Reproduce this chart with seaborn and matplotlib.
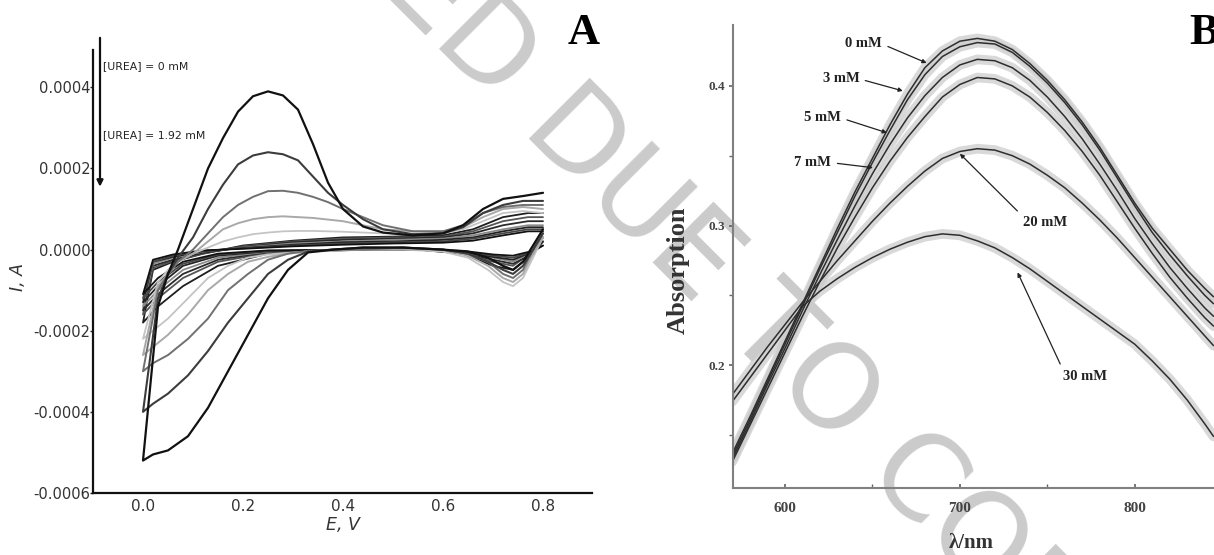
import matplotlib
matplotlib.use("Agg")
import matplotlib.pyplot as plt
from matplotlib.ticker import FixedLocator, MultipleLocator, FormatStrFormatter
import numpy as np
import seaborn as sns

# ---------------- panel A : cyclic voltammograms (current in 1e-4 A) ----------------
E_UP = [0.00, 0.03, 0.05, 0.07, 0.10, 0.13, 0.16, 0.19, 0.22, 0.25, 0.28, 0.31,
        0.34, 0.37, 0.40, 0.44, 0.48, 0.54, 0.60, 0.64, 0.68, 0.72, 0.76, 0.80]
E_DN = [0.80, 0.78, 0.76, 0.74, 0.72, 0.69, 0.65, 0.60, 0.52, 0.44, 0.38, 0.33,
        0.29, 0.25, 0.21, 0.17, 0.13, 0.09, 0.05, 0.02, 0.00]

C1_UP = [-5.2, -1.4, -0.6, 0.0, 1.0, 2.0, 2.75, 3.4, 3.78, 3.9, 3.8, 3.45, 2.6, 1.65, 1.0, 0.57, 0.42, 0.35, 0.4, 0.6, 1.0, 1.25, 1.32, 1.4]
C1_DN = [0.5, 0.1, -0.3, -0.5, -0.4, -0.2, -0.05, 0.0, 0.05, 0.05, 0.0, -0.07, -0.5, -1.2, -2.1, -3.0, -3.9, -4.6, -4.95, -5.05, -5.2]
C2_UP = [-4.0, -1.2, -0.6, -0.2, 0.3, 1.0, 1.6, 2.1, 2.32, 2.4, 2.35, 2.2, 1.8, 1.4, 1.1, 0.75, 0.5, 0.38, 0.4, 0.55, 0.9, 1.1, 1.2, 1.2]
C2_DN = [0.4, 0.0, -0.4, -0.6, -0.5, -0.3, -0.1, 0.0, 0.05, 0.05, 0.0, -0.05, -0.25, -0.6, -1.2, -1.8, -2.5, -3.1, -3.55, -3.8, -4.0]
C3_UP = [-3.0, -1.0, -0.6, -0.3, 0.0, 0.4, 0.8, 1.1, 1.3, 1.44, 1.45, 1.4, 1.3, 1.17, 1.0, 0.8, 0.6, 0.45, 0.45, 0.6, 0.9, 1.05, 1.1, 1.1]
C3_DN = [0.4, 0.0, -0.5, -0.7, -0.6, -0.3, -0.1, 0.0, 0.05, 0.0, 0.0, -0.03, -0.1, -0.25, -0.6, -1.0, -1.7, -2.2, -2.6, -2.8, -3.0]
C4_UP = [-2.6, -0.9, -0.6, -0.3, -0.1, 0.2, 0.5, 0.65, 0.75, 0.8, 0.82, 0.8, 0.78, 0.74, 0.7, 0.6, 0.5, 0.45, 0.45, 0.55, 0.8, 1.0, 1.05, 1.0]
C4_DN = [0.3, -0.1, -0.6, -0.8, -0.7, -0.4, -0.15, 0.0, 0.0, 0.0, -0.03, -0.05, -0.1, -0.18, -0.3, -0.6, -1.0, -1.6, -2.1, -2.4, -2.6]
C5_UP = [-2.2, -0.8, -0.5, -0.3, -0.1, 0.05, 0.2, 0.3, 0.38, 0.42, 0.45, 0.46, 0.46, 0.45, 0.44, 0.42, 0.4, 0.38, 0.4, 0.5, 0.7, 0.9, 0.95, 0.9]
C5_DN = [0.3, -0.2, -0.7, -0.9, -0.8, -0.5, -0.2, -0.05, 0.0, 0.0, -0.03, -0.05, -0.08, -0.12, -0.2, -0.4, -0.7, -1.2, -1.7, -2.0, -2.2]

# higher urea, almost flat loops
E_FU = [0.00, 0.02, 0.06, 0.12, 0.20, 0.30, 0.40, 0.50, 0.60, 0.66, 0.72, 0.77, 0.80]
E_FD = [0.80, 0.78, 0.74, 0.70, 0.64, 0.55, 0.45, 0.35, 0.25, 0.15, 0.08, 0.03, 0.00]
F1_UP = [-1.8, -0.5, -0.3, -0.1, 0.1, 0.22, 0.3, 0.32, 0.35, 0.5, 0.8, 0.9, 0.9]
F1_DN = [0.3, -0.1, -0.5, -0.4, -0.1, 0.0, 0.0, -0.03, -0.1, -0.4, -0.9, -1.4, -1.8]
F2_UP = [-1.6, -0.45, -0.28, -0.1, 0.08, 0.2, 0.27, 0.3, 0.32, 0.45, 0.7, 0.8, 0.8]
F2_DN = [0.3, -0.05, -0.4, -0.3, -0.1, 0.0, 0.0, -0.03, -0.08, -0.3, -0.7, -1.2, -1.6]
F3_UP = [-1.5, -0.4, -0.25, -0.08, 0.06, 0.18, 0.24, 0.27, 0.3, 0.4, 0.6, 0.7, 0.7]
F3_DN = [0.2, -0.1, -0.35, -0.25, -0.08, 0.0, 0.0, -0.02, -0.06, -0.25, -0.6, -1.1, -1.5]
F4_UP = [-1.4, -0.35, -0.2, -0.05, 0.05, 0.15, 0.2, 0.24, 0.27, 0.35, 0.5, 0.6, 0.6]
F4_DN = [0.2, -0.05, -0.3, -0.2, -0.06, 0.0, 0.0, -0.02, -0.05, -0.2, -0.5, -1.0, -1.4]
F5_UP = [-1.3, -0.3, -0.18, -0.04, 0.04, 0.12, 0.18, 0.2, 0.24, 0.3, 0.45, 0.55, 0.55]
F5_DN = [0.2, -0.05, -0.25, -0.18, -0.05, 0.0, 0.0, -0.02, -0.04, -0.15, -0.4, -0.9, -1.3]
F6_UP = [-1.2, -0.3, -0.15, -0.03, 0.03, 0.1, 0.15, 0.18, 0.2, 0.27, 0.4, 0.5, 0.5]
F6_DN = [0.1, -0.05, -0.2, -0.15, -0.04, 0.0, 0.0, -0.01, -0.03, -0.12, -0.35, -0.8, -1.2]
F7_UP = [-1.1, -0.25, -0.12, -0.02, 0.02, 0.08, 0.12, 0.15, 0.17, 0.22, 0.35, 0.45, 0.45]
F7_DN = [0.1, -0.03, -0.15, -0.12, -0.03, 0.0, 0.0, -0.01, -0.02, -0.1, -0.3, -0.7, -1.1]

A_YTICKS = [-0.0006, -0.0004, -0.0002, 0.0, 0.0002, 0.0004]
A_XTICKS = [0.0, 0.2, 0.4, 0.6, 0.8]

# ---------------- panel B : absorption spectra ----------------
WL = [570, 580, 590, 600, 610, 620, 630, 640, 650, 660, 670, 680, 690, 700, 710,
      720, 730, 740, 750, 760, 770, 780, 790, 800, 810, 820, 830, 840, 845]
ABS_0 = [0.137, 0.163, 0.190, 0.217, 0.244, 0.271, 0.298, 0.324, 0.348, 0.372, 0.394, 0.413, 0.425, 0.432, 0.434,
         0.432, 0.426, 0.416, 0.404, 0.390, 0.374, 0.356, 0.336, 0.316, 0.298, 0.283, 0.268, 0.255, 0.249]
ABS_3 = [0.135, 0.161, 0.188, 0.215, 0.242, 0.269, 0.295, 0.321, 0.345, 0.368, 0.390, 0.408, 0.421, 0.428, 0.431,
         0.430, 0.424, 0.414, 0.402, 0.388, 0.372, 0.354, 0.334, 0.314, 0.295, 0.279, 0.264, 0.250, 0.244]
ABS_5 = [0.133, 0.159, 0.186, 0.212, 0.239, 0.265, 0.290, 0.314, 0.337, 0.358, 0.377, 0.393, 0.406, 0.415, 0.419,
         0.418, 0.413, 0.404, 0.392, 0.378, 0.362, 0.344, 0.325, 0.305, 0.287, 0.270, 0.255, 0.241, 0.235]
ABS_7 = [0.131, 0.157, 0.183, 0.209, 0.235, 0.260, 0.284, 0.306, 0.327, 0.346, 0.363, 0.378, 0.392, 0.401, 0.406,
         0.405, 0.400, 0.392, 0.381, 0.368, 0.353, 0.336, 0.317, 0.298, 0.280, 0.263, 0.248, 0.234, 0.228]
ABS_20 = [0.179, 0.196, 0.213, 0.229, 0.245, 0.260, 0.275, 0.289, 0.303, 0.316, 0.328, 0.339, 0.348, 0.353, 0.355,
          0.354, 0.350, 0.344, 0.336, 0.327, 0.316, 0.304, 0.291, 0.277, 0.263, 0.249, 0.235, 0.221, 0.214]
ABS_30 = [0.174, 0.191, 0.208, 0.225, 0.242, 0.253, 0.262, 0.270, 0.277, 0.283, 0.288, 0.292, 0.294, 0.293, 0.289,
          0.284, 0.277, 0.269, 0.260, 0.251, 0.242, 0.233, 0.224, 0.215, 0.203, 0.190, 0.175, 0.158, 0.149]

B_LABELS = ["0 mM", "3 mM", "5 mM", "7 mM", "20 mM", "30 mM"]
# label centre and the curve point each pointer ends on
B_LABEL_XY = [(645, 0.430), (632, 0.405), (621.5, 0.377), (616, 0.345), (748.5, 0.302), (771.5, 0.192)]
B_POINT_XY = [(681, 0.4164), (667.4, 0.3964), (658.3, 0.3664), (650.3, 0.3414), (700, 0.3514), (733, 0.2664)]


def main():
    sns.set_theme(style="white")
    plt.rcParams["axes.unicode_minus"] = False
    plt.rcParams["font.family"] = ["DejaVu Sans"]

    W, H = 1214, 555
    fig = plt.figure(figsize=(W / 100, H / 100), dpi=100)

    # watermark behind everything
    fig.text(695 / W, 1 - 259 / H, "RETRACTED DUE TO COPYRIGHT", rotation=-45,
             rotation_mode="anchor", ha="center", va="center", fontsize=84,
             color="#cbcbcb", zorder=-5)

    # ---------- A ----------
    axA = fig.add_axes([93 / W, 1 - 493 / H, (592 - 93) / W, (493 - 50) / H])
    axA.set_facecolor("none")
    big = [(C1_UP, C1_DN, "#111111", 1.6), (C2_UP, C2_DN, "#3c3c3c", 1.5),
           (C3_UP, C3_DN, "#707070", 1.4), (C4_UP, C4_DN, "#a9a9a9", 1.4),
           (C5_UP, C5_DN, "#c4c4c4", 1.3)]
    flat = [(F1_UP, F1_DN, "#1e1e1e"), (F2_UP, F2_DN, "#555555"), (F3_UP, F3_DN, "#2a2a2a"),
            (F4_UP, F4_DN, "#8a8a8a"), (F5_UP, F5_DN, "#222222"), (F6_UP, F6_DN, "#474747"),
            (F7_UP, F7_DN, "#111111")]
    for up, dn, col in flat:
        e = list(E_FD) + list(E_FU)
        cur = np.array(list(dn) + list(up)) * 1e-4
        sns.lineplot(x=e, y=cur, ax=axA, sort=False, estimator=None, color=col, linewidth=1.3)
    for up, dn, col, lw in big[::-1]:
        e = list(E_DN) + list(E_UP)
        cur = np.array(list(dn) + list(up)) * 1e-4
        sns.lineplot(x=e, y=cur, ax=axA, sort=False, estimator=None, color=col, linewidth=lw)

    axA.set_xlim(-0.1, 0.898)
    axA.set_ylim(-0.0006, 0.000492)
    axA.xaxis.set_major_locator(FixedLocator(A_XTICKS))
    axA.yaxis.set_major_locator(FixedLocator(A_YTICKS))
    axA.xaxis.set_major_formatter(FormatStrFormatter("%.1f"))
    axA.yaxis.set_major_formatter(FormatStrFormatter("%.4f"))
    for s in ["top", "right"]:
        axA.spines[s].set_visible(False)
    for s in ["left", "bottom"]:
        axA.spines[s].set_color("#111111")
        axA.spines[s].set_linewidth(1.6)
    axA.tick_params(axis="y", direction="out", length=2, width=1, pad=0, labelsize=10.5,
                    labelcolor="#333333", left=True)
    axA.tick_params(axis="x", direction="out", length=0, pad=4, labelsize=11, labelcolor="#333333")
    axA.set_xlabel("E, V", fontsize=12.5, style="italic", color="#333333", labelpad=2)
    axA.set_ylabel("I, A", fontsize=12.5, style="italic", color="#333333")
    axA.yaxis.set_label_coords(-0.132, 0.488)

    axA.annotate("", xy=(-0.086, 0.000155), xytext=(-0.086, 0.000522),
                 arrowprops=dict(arrowstyle="-|>", color="#111111", lw=1.6, mutation_scale=9,
                                 shrinkA=0, shrinkB=0), annotation_clip=False)
    axA.text(-0.08, 0.000452, "[UREA] = 0 mM", fontsize=7.8, color="#222222", va="center")
    axA.text(-0.08, 0.000282, "[UREA] = 1.92 mM", fontsize=7.8, color="#222222", va="center")
    fig.text(584 / W, 1 - 33 / H, "A", family="Liberation Serif", weight="bold",
             fontsize=32, ha="center", va="center", color="black")

    # ---------- B ----------
    axB = fig.add_axes([733 / W, 1 - 488 / H, (W - 733) / W, (488 - 25) / H])
    axB.set_facecolor("none")
    spectra = [ABS_30, ABS_20, ABS_7, ABS_5, ABS_3, ABS_0]
    for ys in spectra:
        sns.lineplot(x=WL, y=ys, ax=axB, color="#cdcdcd", linewidth=7, alpha=0.75)
    for ys in spectra:
        sns.lineplot(x=WL, y=ys, ax=axB, color="#2e2e2e", linewidth=1.1)

    axB.set_xlim(570.3, 845.3)
    axB.set_ylim(0.112, 0.4436)
    axB.xaxis.set_major_locator(MultipleLocator(100))
    axB.xaxis.set_minor_locator(MultipleLocator(50))
    axB.yaxis.set_major_locator(MultipleLocator(0.1))
    axB.yaxis.set_minor_locator(MultipleLocator(0.05))
    axB.yaxis.set_major_formatter(FormatStrFormatter("%.1f"))
    for s in ["top", "right"]:
        axB.spines[s].set_visible(False)
    for s in ["left", "bottom"]:
        axB.spines[s].set_color("#808080")
        axB.spines[s].set_linewidth(1.5)
    axB.tick_params(axis="x", which="both", direction="in", length=3, color="#666666",
                    labelsize=11, labelcolor="#444444", pad=10, bottom=True)
    axB.tick_params(axis="y", which="both", direction="out", length=3, color="#666666",
                    labelsize=9.5, labelcolor="#444444", pad=3, left=True)
    for lab in axB.get_xticklabels() + axB.get_yticklabels():
        lab.set_family("Liberation Serif")
        lab.set_weight("bold")
    axB.set_xlabel("λ/nm", family="Liberation Serif", weight="bold", fontsize=15,
                   color="#333333")
    axB.set_ylabel("Absorption", family="Liberation Serif", weight="bold", fontsize=19,
                   color="#333333")
    axB.xaxis.set_label_coords(0.495, -0.097)
    axB.yaxis.set_label_coords(-0.089, 0.471)

    for i, (lab, txy, pxy) in enumerate(zip(B_LABELS, B_LABEL_XY, B_POINT_XY)):
        rel = (1.0, 0.5) if i < 4 else (0.0, 1.0)
        axB.annotate(lab, xy=pxy, xytext=txy, ha="center", va="center",
                     family="Liberation Serif", weight="bold", fontsize=10.5, color="#222222",
                     arrowprops=dict(arrowstyle="-|>", color="#222222", lw=0.9,
                                     mutation_scale=6, shrinkA=2, shrinkB=0, relpos=rel))
    fig.text(1189 / W, 1 - 33 / H, "B", family="Liberation Serif", weight="bold",
             fontsize=32, ha="left", va="center", color="black")

    fig.savefig("out.png", dpi=100)


if __name__ == "__main__":
    main()
